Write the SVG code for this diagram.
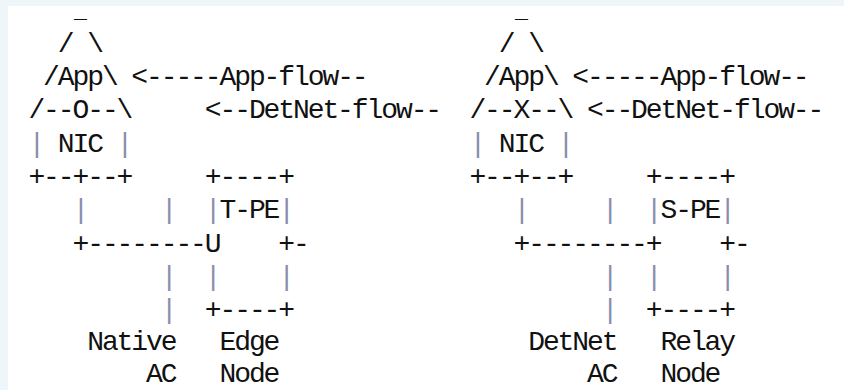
<svg xmlns="http://www.w3.org/2000/svg" width="844" height="390" viewBox="0 0 844 390" xml:space="preserve">
<style>
text{font-family:"Liberation Mono","DejaVu Sans Mono",monospace;font-size:28px;letter-spacing:-2.1px;fill:#111;white-space:pre}
.bar{fill:#8a8eab}
.us{font-size:16px;letter-spacing:0}
</style>
<rect x="0" y="0" width="844" height="390" fill="#eef6f9"/>
<rect x="8" y="6" width="836" height="384" fill="#ffffff"/>
<g id="host-left">
<text class="us" x="74" y="18" textLength="13" lengthAdjust="spacingAndGlyphs">_</text>
<text x="57.8" y="51.7">/ \</text>
<text x="43.1" y="85">/App\</text>
<text x="28.4" y="118.3">/--O--\</text>
<text x="28.4" y="151.7"><tspan class="bar">|</tspan> NIC <tspan class="bar">|</tspan></text>
<text x="28.4" y="185">+--+--+</text>
</g>
<g id="tpe-node">
<text x="204.8" y="185">+----+</text>
<text x="204.8" y="218.3"><tspan class="bar">|</tspan>T-PE<tspan class="bar">|</tspan></text>
<text x="204.8" y="251.7">U</text>
<text x="278.3" y="251.7">+-</text>
<text class="bar" x="204.8" y="285">|</text>
<text class="bar" x="278.3" y="285">|</text>
<text x="204.8" y="318.3">+----+</text>
</g>
<g id="host-right">
<text class="us" x="515" y="18" textLength="13" lengthAdjust="spacingAndGlyphs">_</text>
<text x="498.8" y="51.7">/ \</text>
<text x="484.1" y="85">/App\</text>
<text x="469.4" y="118.3">/--X--\</text>
<text x="469.4" y="151.7"><tspan class="bar">|</tspan> NIC <tspan class="bar">|</tspan></text>
<text x="469.4" y="185">+--+--+</text>
</g>
<g id="spe-node">
<text x="645.8" y="185">+----+</text>
<text x="645.8" y="218.3"><tspan class="bar">|</tspan>S-PE<tspan class="bar">|</tspan></text>
<text x="645.8" y="251.7">+</text>
<text x="719.3" y="251.7">+-</text>
<text class="bar" x="645.8" y="285">|</text>
<text class="bar" x="719.3" y="285">|</text>
<text x="645.8" y="318.3">+----+</text>
</g>
<g id="connectors">
<text x="131.3" y="85">&lt;-----App-flow--</text>
<text x="204.8" y="118.3">&lt;--DetNet-flow--</text>
<text class="bar" x="72.5" y="218.3">|</text>
<text class="bar" x="160.7" y="218.3">|</text>
<text x="72.5" y="251.7">+--------</text>
<text class="bar" x="160.7" y="285">|</text>
<text class="bar" x="160.7" y="318.3">|</text>
<text x="572.3" y="85">&lt;-----App-flow--</text>
<text x="587" y="118.3">&lt;--DetNet-flow--</text>
<text class="bar" x="513.5" y="218.3">|</text>
<text class="bar" x="601.7" y="218.3">|</text>
<text x="513.5" y="251.7">+--------</text>
<text class="bar" x="601.7" y="285">|</text>
<text class="bar" x="601.7" y="318.3">|</text>
</g>
<g id="labels">
<text x="87.2" y="350">Native</text>
<text x="146" y="381.5">AC</text>
<text x="219.5" y="350">Edge</text>
<text x="219.5" y="381.5">Node</text>
<text x="528.2" y="350">DetNet</text>
<text x="587" y="381.5">AC</text>
<text x="660.5" y="350">Relay</text>
<text x="660.5" y="381.5">Node</text>
</g>
</svg>
